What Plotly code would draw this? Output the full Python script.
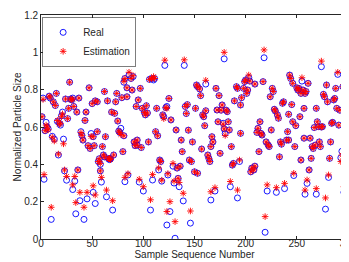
import plotly.graph_objects as go

# (sample number, real, estimation)
sample = [1,2,3,4,5,6,7,8,9,10,11,12,13,14,15,16,17,18,19,20,21,22,23,24,25,26,27,28,29,30,31,31,32,33,34,35,36,37,38,39,40,41,42,43,44,45,46,47,48,49,50,
          51,51,52,53,53,55,55,56,57,58,58,59,60,61,62,62,63,64,65,66,67,67,68,69,70,71,72,73,74,75,76,77,78,79,80,81,82,81,82,84,84,85,86,88,89,90,
          91,92,93,94,94,95,96,97,98,99,100,101,102,103,104,105,106,107,108,109,110,111,112,113,114,115,116,117,118,119,120,121,122,123,123,124,125,126,127,129,130,131,132,133,134,135,136,137,138,139,140,
          141,142,143,144,145,146,147,148,150,151,152,153,153,155,156,157,158,159,160,161,161,163,164,165,166,166,167,168,170,171,172,173,174,175,176,177,178,179,179,180,181,182,183,184,185,186,187,188,189,191,192,192,194,195,195,196,
          198,199,200,201,202,203,204,205,206,208,209,209,211,212,213,214,215,216,217,218,219,220,221,222,223,224,225,226,227,228,229,230,231,232,233,234,235,236,237,238,240,241,242,242,243,244,245,
          246,246,247,248,249,250,251,252,253,254,254,255,256,257,257,258,258,259,260,261,262,263,264,265,266,267,268,269,269,270,271,272,273,274,274,275,276,277,278,279,280,281,282,283,284,285,286,287,288,289,290,291,292,293,294,295,296,297,298,299,299,300]
real = [0.655,0.755,0.32,0.58,0.625,0.60,0.59,0.765,0.755,0.105,0.55,0.735,0.535,0.715,0.78,0.63,0.45,0.62,0.61,0.66,0.68,0.535,0.365,0.75,0.315,0.645,0.70,0.84,0.75,0.745,0.755,0.265,0.71,0.31,0.135,0.68,0.37,0.755,0.205,0.575,0.555,0.53,0.105,0.635,0.68,0.215,0.50,0.81,0.485,0.565,0.725,
        0.25,0.548,0.50,0.74,0.19,0.575,0.735,0.415,0.43,0.40,0.365,0.305,0.495,0.45,0.44,0.79,0.548,0.226,0.74,0.43,0.43,0.425,0.43,0.68,0.155,0.45,0.673,0.735,0.78,0.632,0.578,0.57,0.593,0.757,0.468,0.553,0.307,0.84,0.86,0.81,0.762,0.343,0.878,0.86,0.798,0.87,
        0.52,0.50,0.71,0.53,0.503,0.745,0.305,0.807,0.49,0.70,0.257,0.678,0.665,0.714,0.675,0.52,0.855,0.155,0.86,0.316,0.852,0.86,0.575,0.70,0.553,0.37,0.423,0.415,0.31,0.665,0.655,0.93,0.704,0.71,0.075,0.343,0.753,0.147,0.638,0.39,0.30,0.004,0.584,0.38,0.325,0.28,0.39,0.53,0.468,0.204,0.93,
        0.71,0.672,0.72,0.583,0.423,0.085,0.415,0.52,0.36,0.70,0.825,0.352,0.816,0.804,0.768,0.482,0.665,0.655,0.607,0.83,0.687,0.45,0.432,0.415,0.495,0.209,0.548,0.52,0.257,0.807,0.691,0.628,0.768,0.459,0.69,0.718,0.62,0.59,0.965,0.565,0.69,0.682,0.628,0.584,0.28,0.495,0.396,0.405,0.74,0.816,0.807,0.22,0.415,0.566,0.718,0.757,
        0.807,0.843,0.852,0.78,0.798,0.865,0.846,0.36,0.38,0.37,0.39,0.83,0.571,0.593,0.468,0.628,0.566,0.557,0.843,0.971,0.036,0.52,0.257,0.503,0.495,0.762,0.584,0.807,0.79,0.695,0.686,0.25,0.665,0.647,0.44,0.52,0.508,0.727,0.735,0.27,0.53,0.575,0.53,0.668,0.878,0.86,0.72,
        0.834,0.628,0.34,0.495,0.607,0.81,0.798,0.807,0.655,0.423,0.78,0.846,0.798,0.54,0.70,0.78,0.24,0.79,0.298,0.834,0.37,0.54,0.432,0.495,0.485,0.597,0.503,0.70,0.24,0.628,0.602,0.52,0.495,0.60,0.923,0.602,0.775,0.762,0.16,0.825,0.735,0.33,0.432,0.52,0.62,0.625,0.745,0.753,0.807,0.70,0.882,0.61,0.69,0.435,0.47,0.816,0.25,0.628,0.61,0.757,0.593,0.625]
estimation = [0.655,0.748,0.345,0.58,0.61,0.60,0.585,0.765,0.76,0.17,0.545,0.735,0.525,0.715,0.78,0.635,0.455,0.615,0.62,0.655,0.67,0.51,0.37,0.75,0.335,0.645,0.70,0.84,0.75,0.745,0.75,0.29,0.71,0.335,0.195,0.68,0.37,0.755,0.25,0.57,0.555,0.53,0.17,0.635,0.68,0.25,0.50,0.81,0.485,0.55,0.725,
              0.285,0.548,0.50,0.74,0.236,0.575,0.735,0.415,0.43,0.405,0.365,0.33,0.495,0.45,0.44,0.79,0.548,0.262,0.74,0.43,0.43,0.43,0.425,0.68,0.205,0.45,0.673,0.735,0.78,0.632,0.578,0.57,0.56,0.757,0.468,0.553,0.33,0.845,0.86,0.81,0.762,0.35,0.893,0.86,0.798,0.875,
              0.52,0.50,0.71,0.53,0.503,0.745,0.32,0.807,0.49,0.70,0.28,0.678,0.665,0.714,0.675,0.52,0.855,0.21,0.86,0.345,0.87,0.86,0.575,0.70,0.553,0.38,0.423,0.415,0.315,0.665,0.645,0.958,0.704,0.70,0.147,0.35,0.753,0.20,0.638,0.405,0.31,0.093,0.584,0.38,0.325,0.303,0.39,0.53,0.468,0.245,0.96,
              0.71,0.672,0.72,0.583,0.423,0.15,0.415,0.52,0.36,0.70,0.825,0.352,0.816,0.804,0.768,0.482,0.665,0.655,0.607,0.85,0.687,0.45,0.432,0.415,0.495,0.253,0.548,0.52,0.275,0.807,0.691,0.628,0.768,0.459,0.69,0.718,0.615,0.59,1.0,0.555,0.69,0.682,0.628,0.584,0.308,0.495,0.396,0.405,0.74,0.816,0.807,0.262,0.423,0.566,0.718,0.757,
              0.807,0.843,0.852,0.78,0.798,0.878,0.846,0.36,0.38,0.37,0.39,0.83,0.571,0.593,0.468,0.628,0.566,0.557,0.843,1.013,0.12,0.52,0.29,0.503,0.495,0.762,0.584,0.807,0.79,0.695,0.686,0.275,0.665,0.647,0.44,0.52,0.508,0.727,0.735,0.298,0.53,0.575,0.53,0.668,0.878,0.86,0.72,
              0.834,0.628,0.352,0.495,0.607,0.81,0.798,0.807,0.655,0.423,0.78,0.864,0.798,0.54,0.70,0.78,0.262,0.79,0.316,0.834,0.37,0.54,0.432,0.495,0.485,0.597,0.503,0.70,0.27,0.628,0.602,0.52,0.495,0.60,0.953,0.602,0.775,0.762,0.22,0.825,0.735,0.343,0.432,0.52,0.62,0.625,0.745,0.753,0.807,0.70,0.893,0.61,0.69,0.415,0.45,0.816,0.28,0.628,0.61,0.757,0.593,0.625]

x_ticks = [0, 50, 100, 150, 200, 250, 300]
y_ticks = [0, 0.2, 0.4, 0.6, 0.8, 1.0, 1.2]
y_tick_text = ["0", "0.2", "0.4", "0.6", "0.8", "1", "1.2"]

n = min(len(sample), len(real), len(estimation))
sample, real, estimation = sample[:n], real[:n], estimation[:n]

FONT = "Liberation Sans, Arial, sans-serif"
fig = go.Figure()
fig.add_trace(go.Scatter(x=sample, y=real, mode="markers", name="Real",
                         marker=dict(symbol="circle-open", size=6, color="#0000FF", line=dict(width=0.9, color="#0000FF"))))
fig.add_trace(go.Scatter(x=sample, y=estimation, mode="markers", name="Estimation",
                         marker=dict(symbol="asterisk-open", size=5.5, color="#FF0000", line=dict(width=0.9, color="#FF0000"))))

axis_common = dict(showline=True, linecolor="#262626", linewidth=0.6, mirror="allticks",
                   ticks="inside", ticklen=3, tickwidth=0.6, tickcolor="#262626",
                   showgrid=False, zeroline=False, automargin=False,
                   tickfont=dict(family=FONT, size=10, color="#262626"))
fig.update_xaxes(range=[0, 300], tickvals=x_ticks, ticklabelstandoff=-5, **axis_common,
                 title=dict(text="Sample Sequence Number", standoff=0,
                            font=dict(family=FONT, size=10, color="#262626")))
fig.update_yaxes(range=[0, 1.2], tickvals=y_ticks, ticktext=y_tick_text, **axis_common,
                 title=dict(text="Normalized Particle Size", standoff=0,
                            font=dict(family=FONT, size=10, color="#262626")))
fig.update_layout(width=349, height=262, margin=dict(l=33, r=9, t=7, b=31),
                  paper_bgcolor="white", plot_bgcolor="white", showlegend=True,
                  legend=dict(x=0.005, y=0.99, xanchor="left", yanchor="top", bgcolor="white",
                              bordercolor="#262626", borderwidth=0.6, tracegroupgap=0,
                              itemwidth=30,
                              font=dict(family=FONT, size=10, color="#262626")))
fig.write_html("out.html")
